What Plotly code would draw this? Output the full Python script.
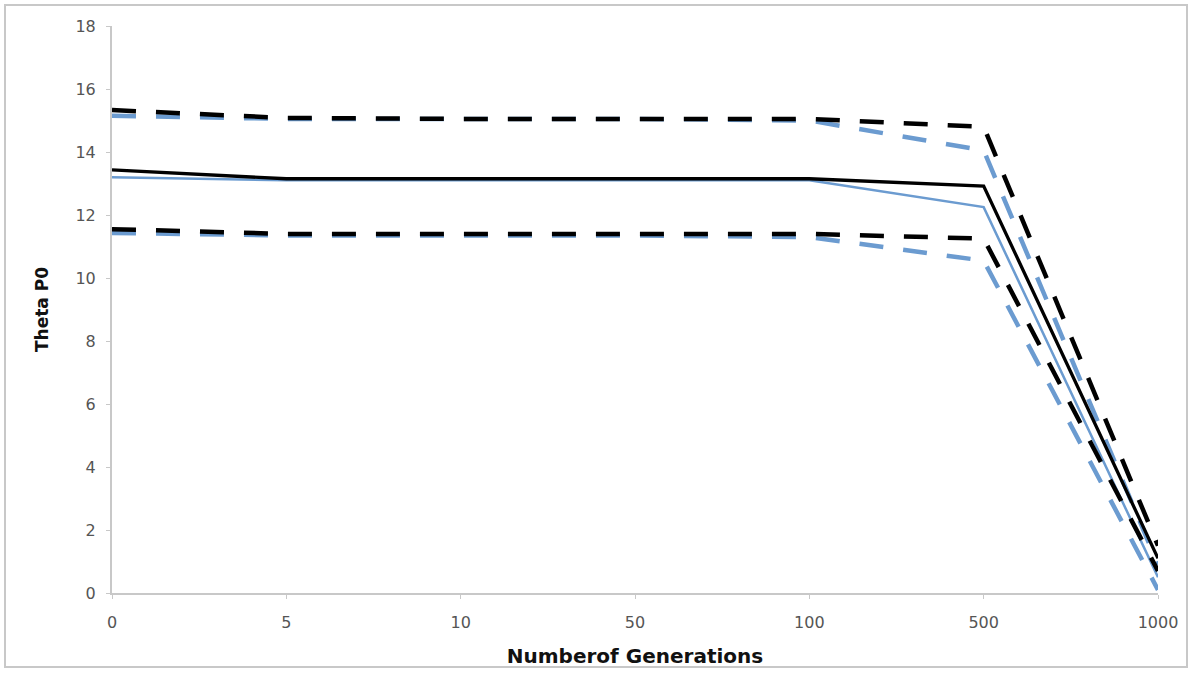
import plotly.graph_objects as go

generations = ["0", "5", "10", "50", "100", "500", "1000"]

blue_upper = [15.15, 15.05, 15.05, 15.05, 15.0, 14.05, 0.9]
blue_mean = [13.2, 13.1, 13.1, 13.1, 13.1, 12.25, 0.5]
blue_lower = [11.43, 11.35, 11.35, 11.35, 11.3, 10.55, 0.1]

black_upper = [15.33, 15.08, 15.05, 15.05, 15.05, 14.8, 1.5]
black_mean = [13.43, 13.15, 13.15, 13.15, 13.15, 12.92, 1.1]
black_lower = [11.55, 11.4, 11.4, 11.4, 11.4, 11.25, 0.7]

y_ticks = list(range(0, 19, 2))

BLUE = "#6b9bd0"
BLACK = "#000000"
DASH = "24px,20px"

fig = go.Figure()

def add(y, color, width, dash):
    fig.add_trace(go.Scatter(
        x=generations, y=y, mode="lines",
        line=dict(color=color, width=width, dash=dash),
        showlegend=False, hoverinfo="skip"))

add(blue_upper, BLUE, 4.5, DASH)
add(blue_lower, BLUE, 4.5, DASH)
add(blue_mean, BLUE, 2.5, "solid")
add(black_upper, BLACK, 4.5, DASH)
add(black_lower, BLACK, 4.5, DASH)
add(black_mean, BLACK, 3.3, "solid")

fig.update_layout(
    width=1191, height=681,
    margin=dict(l=112, r=33, t=26, b=88),
    paper_bgcolor="white", plot_bgcolor="white",
    font=dict(family="DejaVu Sans, sans-serif"),
    xaxis=dict(
        type="category", range=[0, 6],
        showline=True, linecolor="#c8c8c8", linewidth=2,
        showgrid=False, zeroline=False,
        ticks="outside", ticklen=4, tickcolor="#c8c8c8",
        ticklabelstandoff=10,
        tickfont=dict(size=16, color="#555555"),
        title=dict(text="<b>Numberof Generations</b>", font=dict(size=20, color="#111111"), standoff=18),
    ),
    yaxis=dict(
        range=[0, 18], tickvals=y_ticks,
        showline=True, linecolor="#c8c8c8", linewidth=2,
        showgrid=False, zeroline=False,
        ticks="outside", ticklen=4, tickcolor="#c8c8c8",
        ticklabelstandoff=7,
        tickfont=dict(size=16, color="#555555"),
        title=dict(text="<b>Theta P0</b>", font=dict(size=17, color="#111111"), standoff=22),
    ),
)

fig.add_shape(type="rect", xref="paper", yref="paper",
              x0=(5 - 112) / 1046, x1=(1187 - 112) / 1046,
              y0=(593 - 667) / 567, y1=(593 - 5) / 567,
              line=dict(color="#c8c8c8", width=2), layer="below")

fig.write_html("out.html")
